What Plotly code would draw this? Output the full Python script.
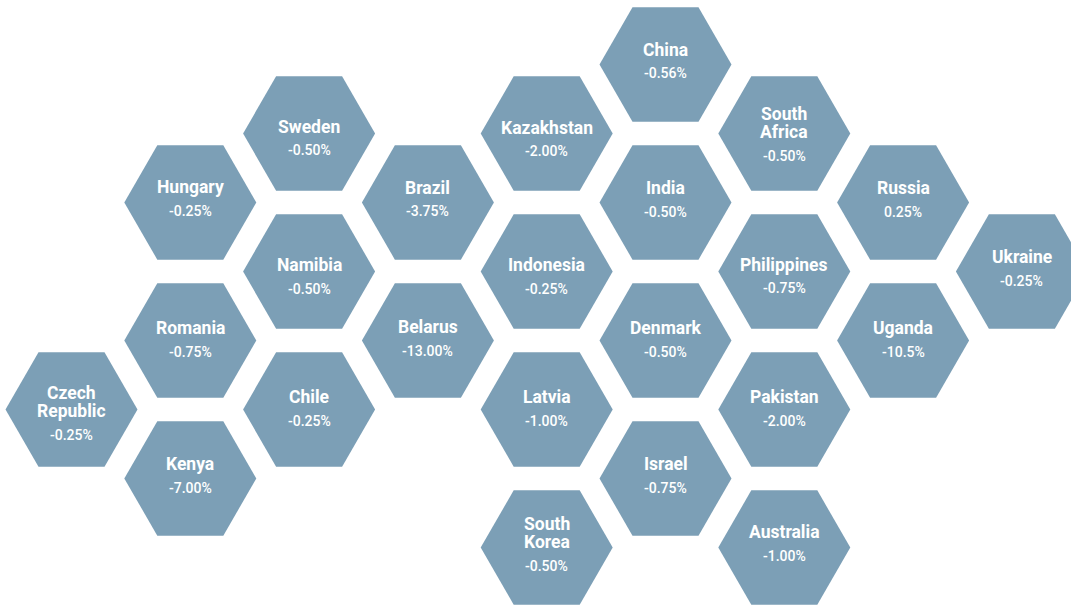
import math
import plotly.graph_objects as go

# ---- data ----
countries = ["Czech\nRepublic", "Hungary", "Romania", "Kenya",
             "Sweden", "Namibia", "Chile",
             "Brazil", "Belarus",
             "Kazakhstan", "Indonesia", "Latvia", "South\nKorea",
             "China", "India", "Denmark", "Israel",
             "South\nAfrica", "Philippines", "Pakistan", "Australia",
             "Russia", "Uganda",
             "Ukraine"]
values = ["-0.25%", "-0.25%", "-0.75%", "-7.00%",
          "-0.50%", "-0.50%", "-0.25%",
          "-3.75%", "-13.00%",
          "-2.00%", "-0.25%", "-1.00%", "-0.50%",
          "-0.56%", "-0.50%", "-0.50%", "-0.75%",
          "-0.50%", "-0.75%", "-2.00%", "-1.00%",
          "0.25%", "-10.5%",
          "-0.25%"]
# hex grid position: column index and half-row index
grid_col = [0, 1, 1, 1,
            2, 2, 2,
            3, 3,
            4, 4, 4, 4,
            5, 5, 5, 5,
            6, 6, 6, 6,
            7, 7,
            8]
grid_row = [5, 2, 4, 6,
            1, 3, 5,
            2, 4,
            1, 3, 5, 7,
            0, 2, 4, 6,
            1, 3, 5, 7,
            2, 4,
            3]

# ---- layout / style constants (pixel-space axes) ----
W, H = 1071, 605
X0, DX = 71.5, 118.8
Y0, DY = 64.5, 69.0
R = 66.0
FILL = "#7c9fb6"
FONT = "Roboto, Liberation Sans, sans-serif"
# small per-label vertical nudges (pixels) of the text block inside its hexagon
LABEL_NUDGE = {"Sweden": 8, "Kazakhstan": 9, "Namibia": 8.5, "Indonesia": 8.5,
               "Philippines": 8, "Romania": 2.5, "Belarus": 1.5, "Denmark": 2.5,
               "Uganda": 2.5, "Chile": 2.5, "Latvia": 2.5, "Pakistan": 2.5,
               "Kenya": 0.5, "Israel": 0.5, "Australia": -0.5, "Hungary": -0.5,
               "India": 0.5, "Russia": 0.5, "Ukraine": 0.5,
               "Czech\nRepublic": 3.5, "South\nKorea": -3.5}

fig = go.Figure()
annotations = []
for name, val, c, r in zip(countries, values, grid_col, grid_row):
    cx = X0 + DX * c
    cy = Y0 + DY * r
    xs, ys = [], []
    for k in range(7):
        a = math.radians(60 * k)
        xs.append(cx + R * math.cos(a))
        ys.append(cy + R * math.sin(a))
    fig.add_trace(go.Scatter(x=xs, y=ys, mode="lines", fill="toself",
                             fillcolor=FILL, line=dict(width=0, color=FILL),
                             hoverinfo="skip", showlegend=False))
    nudge = LABEL_NUDGE.get(name, 0)
    lines = name.split("\n")
    if len(lines) == 1:
        name_y = [cy - 15 + nudge]
        val_y = cy + 8.5 + nudge
    else:
        name_y = [cy - 20 + nudge, cy - 2 + nudge]
        val_y = cy + 22 + nudge
    for ln, ly in zip(lines, name_y):
        annotations.append(dict(x=cx, y=ly, text="<b>" + ln + "</b>", showarrow=False,
                                xanchor="center", yanchor="middle",
                                font=dict(family=FONT, size=17.5, color="white")))
    annotations.append(dict(x=cx, y=val_y, text=val, showarrow=False,
                            xanchor="center", yanchor="middle",
                            font=dict(family=FONT, size=14, color="white", weight=500)))

fig.update_layout(
    width=W, height=H,
    margin=dict(l=0, r=0, t=0, b=0),
    paper_bgcolor="white", plot_bgcolor="white",
    xaxis=dict(range=[0, W], visible=False, fixedrange=True),
    yaxis=dict(range=[H, 0], visible=False, fixedrange=True),
    annotations=annotations,
)

fig.write_html("out.html", config={"displayModeBar": False},
               post_script="document.body.style.margin='0';document.body.style.overflow='hidden';")
